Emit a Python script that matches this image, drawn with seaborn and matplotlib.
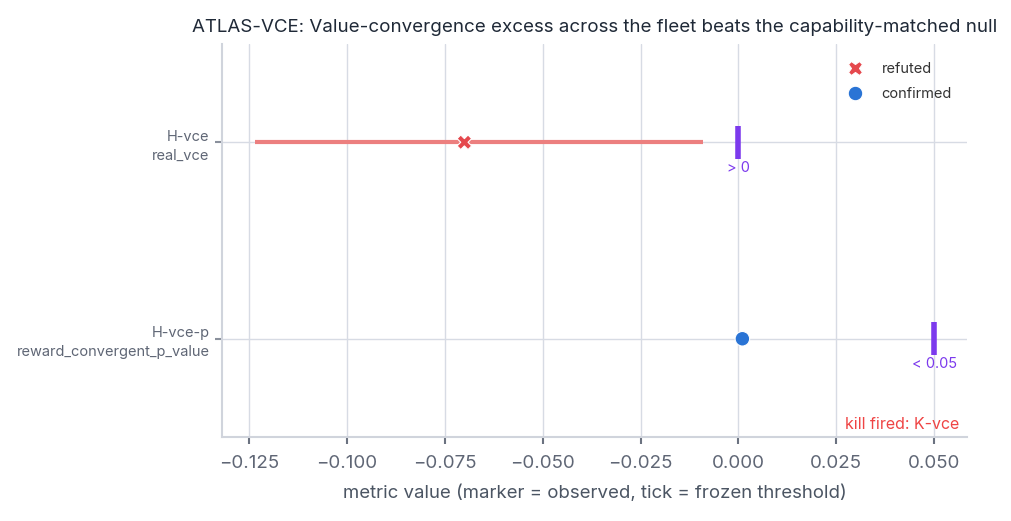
import seaborn as sns
import matplotlib.pyplot as plt
import pandas as pd

# hypothesis rows
hyp_ids = ["H-vce", "H-vce-p"]
metrics = ["real_vce", "reward_convergent_p_value"]
observed = [-0.070, 0.001]
ci_low = [-0.1235, None]
ci_high = [-0.009, None]
thresholds = [0.0, 0.05]
threshold_labels = ["> 0", "< 0.05"]
verdicts = ["refuted", "confirmed"]
kill_text = "kill fired: K-vce"

df = pd.DataFrame({
    "label": [f"{h}\n{m}" for h, m in zip(hyp_ids, metrics)],
    "observed": observed,
    "verdict": verdicts,
})

sns.set_theme(style="whitegrid")
plt.rcParams["font.family"] = ["Inter", "DejaVu Sans"]

fig = plt.figure(figsize=(10.11, 5.21), dpi=100)
ax = fig.add_axes([0.2196, 0.1612, 0.737, 0.7543])

grid_c = "#d7dbe4"
red = "#e5484d"
blue = "#2a74d5"
purple = "#7c3aed"

for i in range(len(hyp_ids)):
    if ci_low[i] is not None:
        ax.plot([ci_low[i], ci_high[i]], [i, i], color="#ec7f7f", lw=3,
                solid_capstyle="butt", zorder=2)

sns.scatterplot(
    data=df, x="observed", y="label", hue="verdict", style="verdict",
    palette={"refuted": red, "confirmed": blue},
    markers={"refuted": "X", "confirmed": "o"},
    s=110, edgecolor="white", linewidth=0.8, zorder=4, ax=ax,
)

for i, (t, tl) in enumerate(zip(thresholds, threshold_labels)):
    ax.plot([t, t], [i - 0.085, i + 0.085], color=purple, lw=4,
            solid_capstyle="butt", zorder=3)
    ax.text(t, i + 0.095, tl, color=purple, fontsize=10.5,
            ha="center", va="top")

ax.text(0.989, 0.012, kill_text, transform=ax.transAxes, color="#ef4444",
        fontsize=11.5, ha="right", va="bottom")

ax.set_xlim(-0.1319, 0.0584)
ax.set_ylim(1.5, -0.5)
ax.set_xticks([-0.125, -0.1, -0.075, -0.05, -0.025, 0.0, 0.025, 0.05])
ax.set_xticklabels(["\u22120.125", "\u22120.100", "\u22120.075", "\u22120.050",
                    "\u22120.025", "0.000", "0.025", "0.050"])

ax.grid(True, color=grid_c, lw=1)
for s in ["top", "right"]:
    ax.spines[s].set_visible(False)
for s in ["left", "bottom"]:
    ax.spines[s].set_color("#d0d4dc")
    ax.spines[s].set_linewidth(1.5)

ax.tick_params(axis="x", colors="#6b7280", labelsize=13.5, length=5,
               width=1.5, direction="out", bottom=True, pad=8)
ax.tick_params(axis="y", colors="#8a909c", labelsize=10.5, length=5,
               width=1.5, direction="out", left=True, pad=4)
for lbl in ax.get_xticklabels():
    lbl.set_color("#5f6675")
for lbl in ax.get_yticklabels():
    lbl.set_color("#5f6675")
    lbl.set_linespacing(1.45)

ax.set_ylabel("")
ax.set_xlabel("metric value (marker = observed, tick = frozen threshold)",
              fontsize=13.4, color="#4b5563", labelpad=9)
ax.set_title("ATLAS-VCE: Value-convergence excess across the fleet beats the capability-matched null",
             fontsize=13.5, color="#1f2937", pad=9)

leg = ax.legend(loc="upper right", frameon=False, fontsize=10.5,
                handletextpad=0.8, labelspacing=0.75,
                bbox_to_anchor=(0.997, 0.988))
leg.set_title(None)
for t in leg.get_texts():
    t.set_color("#333333")

fig.savefig("out.png", dpi=100)
